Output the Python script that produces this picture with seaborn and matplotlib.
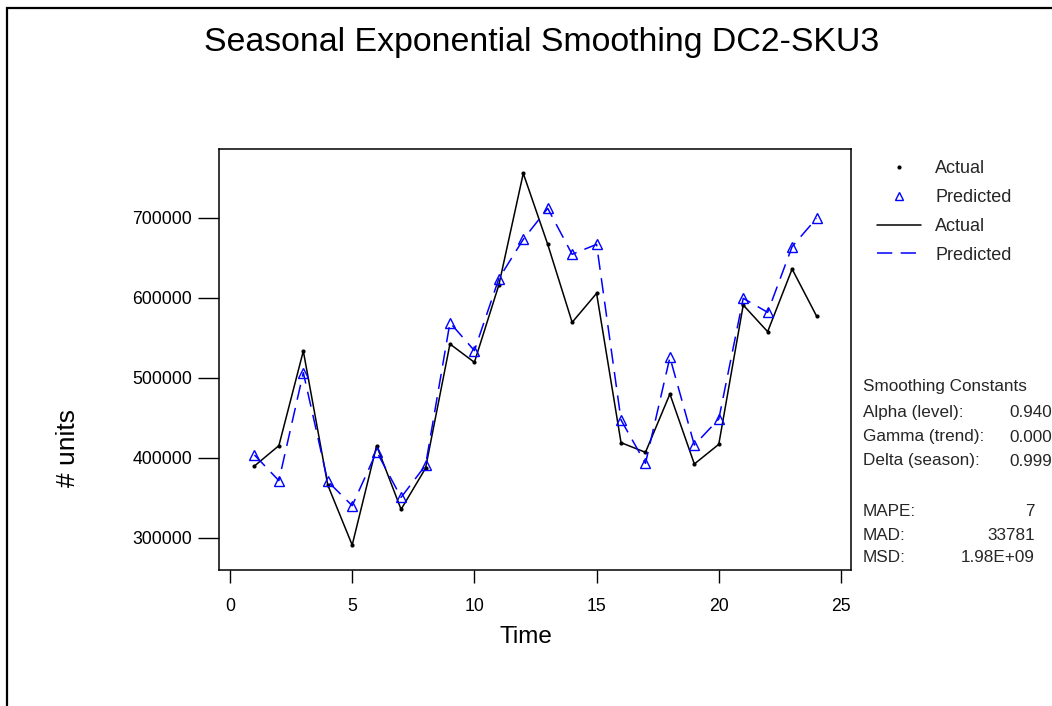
import matplotlib
matplotlib.use("Agg")
import matplotlib.pyplot as plt
from matplotlib.lines import Line2D
from matplotlib.patches import Rectangle
import seaborn as sns
import pandas as pd

# ---- data ----
time = list(range(1, 25))
actual = [390000, 415400, 533700, 366200, 291200, 415400, 335800, 387100,
          542500, 519600, 616200, 755800, 667100, 569600, 605800, 419200,
          407100, 480000, 392500, 417100, 591200, 557900, 636200, 577500]
predicted = [403800, 371700, 506700, 370800, 340400, 407900, 350800, 390800,
             569200, 534200, 624200, 673300, 712100, 654600, 667100, 447500,
             393300, 525800, 416200, 448700, 599600, 582100, 664200, 699600]
x_ticks = [0, 5, 10, 15, 20, 25]
y_ticks = [300000, 400000, 500000, 600000, 700000]
title = "Seasonal Exponential Smoothing DC2-SKU3"
const_labels = ["Alpha (level):", "Gamma (trend):", "Delta (season):"]
const_values = ["0.940", "0.000", "0.999"]
acc_labels = ["MAPE:", "MAD:", "MSD:"]
acc_values = ["7", "33781", "1.98E+09"]

df = pd.DataFrame({"Time": time, "Actual": actual, "Predicted": predicted})

sns.set_theme(style="white")
plt.rcParams["font.family"] = ["Liberation Sans", "DejaVu Sans"]

W, H = 1052, 706
fig = plt.figure(figsize=(W / 100, H / 100), dpi=100)
fig.patch.set_facecolor("white")
ax = fig.add_axes([219 / W, 1 - 570 / H, 632 / W, 421 / H])

BLUE = "#0000ff"
sns.lineplot(data=df, x="Time", y="Actual", ax=ax, color="black", lw=1.1,
             marker=".", markersize=6, markeredgewidth=0, legend=False)
sns.lineplot(data=df, x="Time", y="Predicted", ax=ax, color=BLUE, lw=1.1,
             marker="^", markersize=6.5, markerfacecolor="none",
             markeredgecolor=BLUE, markeredgewidth=1.0, legend=False)
for ln in ax.lines:
    if ln.get_color() == BLUE:
        ln.set_dashes([10, 5.5])

ax.set_xlim(-0.45, 25.41)
ax.set_ylim(260000, 786250)
ax.set_xticks(x_ticks)
ax.set_yticks(y_ticks)
ax.set_xticklabels([str(v) for v in x_ticks])
ax.set_yticklabels([str(v) for v in y_ticks])
ax.tick_params(axis="y", direction="out", length=15, width=1, pad=4.3,
               labelsize=12.7, colors="black", left=True)
ax.tick_params(axis="x", direction="out", length=9, width=1, pad=11,
               labelsize=12.7, colors="black", bottom=True)
for s in ax.spines.values():
    s.set_visible(True)
    s.set_color("black")
    s.set_linewidth(1.1)

ax.set_xlabel("Time", fontsize=17.5, color="black", va="center")
ax.xaxis.set_label_coords((526 - 219) / 632, (570 - 637) / 421)
ax.set_ylabel("# units", fontsize=19, color="black", va="center")
ax.yaxis.set_label_coords((68 - 219) / 632, (570 - 448) / 421)

fig.text(541.5 / W, 1 - 42 / H, title, fontsize=24.4, ha="center",
         va="center", color="black")

# legend
handles = [
    Line2D([], [], ls="none", marker=".", color="black", markersize=6,
           markeredgewidth=0),
    Line2D([], [], ls="none", marker="^", markerfacecolor="none",
           markeredgecolor=BLUE, markersize=6, markeredgewidth=1.0),
    Line2D([], [], color="black", lw=1.1),
    Line2D([], [], color=BLUE, lw=1.1, dashes=[10, 5.5]),
]
leg = fig.legend(handles, ["Actual", "Predicted", "Actual", "Predicted"],
                 loc="upper left", bbox_to_anchor=(877 / W, 1 - 160 / H),
                 frameon=False, fontsize=13, handlelength=2.44,
                 handletextpad=0.78, labelspacing=0.66, borderaxespad=0,
                 borderpad=0)

# stats text
fs = 12.3
fig.text(863 / W, 1 - 387 / H, "Smoothing Constants", fontsize=fs,
         ha="left", va="center")
ys = [413, 437, 461]
for lab, val, yy in zip(const_labels, const_values, ys):
    fig.text(863 / W, 1 - yy / H, lab, fontsize=fs, ha="left", va="center")
    fig.text(1052 / W, 1 - yy / H, val, fontsize=fs, ha="right", va="center")
ys2 = [512, 535, 558]
for lab, val, yy in zip(acc_labels, acc_values, ys2):
    fig.text(863 / W, 1 - yy / H, lab, fontsize=fs, ha="left", va="center")
    fig.text(1035 / W, 1 - yy / H, val, fontsize=fs, ha="right", va="center")

# outer frame
fig.patches.append(Rectangle((7 / W, -0.1), 1.2, (1 - 8 / H) + 0.1,
                             transform=fig.transFigure, fill=False,
                             edgecolor="black", lw=1.6, clip_on=False))

fig.savefig("out.png", dpi=100, facecolor="white")
